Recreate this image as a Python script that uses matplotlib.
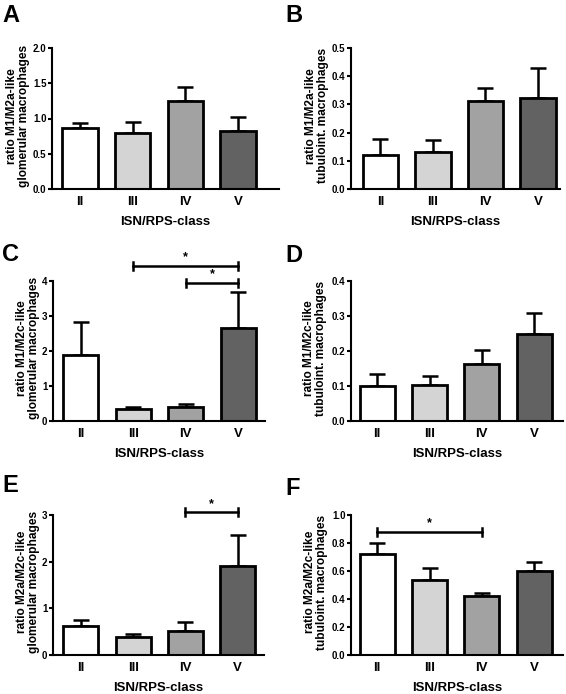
import matplotlib
matplotlib.use('Agg')
import matplotlib.pyplot as plt
import numpy as np

plt.rcParams['font.family'] = ['Liberation Sans', 'DejaVu Sans']
plt.rcParams['font.weight'] = 'bold'

classes = ['II', 'III', 'IV', 'V']
colors = ['#ffffff', '#d4d4d4', '#a2a2a2', '#626262']
xlabel = 'ISN/RPS-class'

# values (mean) and upper SEM
a_vals = [0.87, 0.80, 1.25, 0.82]
a_err = [0.07, 0.15, 0.19, 0.20]
b_vals = [0.122, 0.132, 0.312, 0.322]
b_err = [0.056, 0.040, 0.046, 0.108]
c_vals = [1.90, 0.33, 0.40, 2.65]
c_err = [0.93, 0.07, 0.08, 1.05]
d_vals = [0.100, 0.104, 0.164, 0.248]
d_err = [0.034, 0.026, 0.038, 0.062]
e_vals = [0.63, 0.38, 0.51, 1.91]
e_err = [0.13, 0.08, 0.19, 0.66]
f_vals = [0.725, 0.535, 0.420, 0.598]
f_err = [0.075, 0.087, 0.022, 0.065]

a_label = 'ratio M1/M2a-like\nglomerular macrophages'
b_label = 'ratio M1/M2a-like\ntubuloint. macrophages'
c_label = 'ratio M1/M2c-like\nglomerular macrophages'
d_label = 'ratio M1/M2c-like\ntubuloint. macrophages'
e_label = 'ratio M2a/M2c-like\nglomerular macrophages'
f_label = 'ratio M2a/M2c-like\ntubuloint. macrophages'

W, H = 566, 694
fig = plt.figure(figsize=(W / 100, H / 100), dpi=100)


def make_axes(left, right, top, bottom):
    return fig.add_axes([left / W, 1 - bottom / H, (right - left) / W, (bottom - top) / H])


panels = [
    # letter, vals, err, label, yticks, ytick fmt, axes px box, xlim, letter pos, ylabel x, brackets
    ('A', a_vals, a_err, a_label, np.arange(0, 2.01, 0.5), '%.1f', (52, 279, 48, 189), (-0.53, 3.78), (2, 4), 30, []),
    ('B', b_vals, b_err, b_label, np.arange(0, 0.51, 0.1), '%.1f', (351, 560, 48, 189), (-0.56, 3.42), (285, 4), 329, []),
    ('C', c_vals, c_err, c_label, np.arange(0, 4.1, 1), '%d', (53, 265, 281, 421), (-0.53, 3.51), (2, 243), 40,
     [(1, 3, 4.43), (2, 3, 3.95)]),
    ('D', d_vals, d_err, d_label, np.arange(0, 0.41, 0.1), '%.1f', (351, 563, 281, 421), (-0.5, 3.55), (285, 244), 327, []),
    ('E', e_vals, e_err, e_label, np.arange(0, 3.1, 1), '%d', (53, 264, 515, 655), (-0.53, 3.5), (2, 474), 40,
     [(2, 3, 3.06)]),
    ('F', f_vals, f_err, f_label, np.arange(0, 1.01, 0.2), '%.1f', (351, 563, 515, 655), (-0.5, 3.55), (285, 477), 328,
     [(0, 2, 0.88)]),
]

x = np.arange(len(classes))
for letter, vals, err, ylab, yticks, fmt, box, xlim, lpos, label_x, brackets in panels:
    ax = make_axes(*box)
    ax.errorbar(x, vals, yerr=[np.zeros(4), err], fmt='none', ecolor='black',
                elinewidth=1.8, capsize=6, capthick=1.8, zorder=1)
    ax.bar(x, vals, width=0.67, color=colors, edgecolor='black', linewidth=2, zorder=2)
    ax.set_xlim(*xlim)
    ax.set_ylim(0, yticks[-1])
    ax.set_yticks(yticks)
    ax.set_yticklabels([fmt % t for t in yticks], fontsize=7, fontweight='bold')
    ax.set_xticks(x)
    ax.set_xticklabels(classes, fontsize=9.5, fontweight='bold')
    ax.tick_params(axis='x', length=0, pad=5)
    ax.tick_params(axis='y', length=3, width=1.5, pad=1)
    for s in ['top', 'right']:
        ax.spines[s].set_visible(False)
    for s in ['left', 'bottom']:
        ax.spines[s].set_linewidth(1.5)
    ax.set_xlabel(xlabel, fontsize=9.5, fontweight='bold', labelpad=6)
    ax.set_ylabel(ylab, fontsize=8.6, fontweight='bold', linespacing=0.95)
    # anchor the label's right edge at a fixed pixel column
    ax.yaxis.set_label_coords((label_x - box[0]) / (box[1] - box[0]), 0.52)
    for i0, i1, yb in brackets:
        ax.plot([i0, i1], [yb, yb], color='black', lw=1.8, clip_on=False)
        tick = yticks[-1] * 0.03
        for xi in (i0, i1):
            ax.plot([xi, xi], [yb - tick, yb + tick], color='black', lw=1.8, clip_on=False)
        ax.text((i0 + i1) / 2, yb + tick * 0.6, '*', ha='center', va='bottom',
                fontsize=9, fontweight='bold')
    fig.text(lpos[0] / W, 1 - lpos[1] / H, letter, fontsize=17, fontweight='bold',
             ha='left', va='top')

fig.savefig('out.png', dpi=100)
